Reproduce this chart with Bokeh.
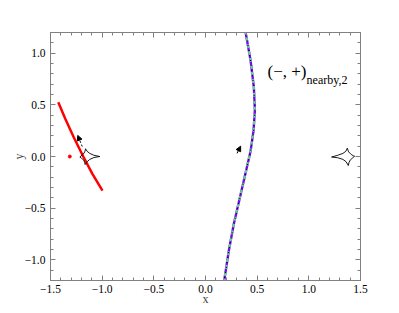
import math
from bokeh.plotting import figure
from bokeh.models import (Range1d, LinearAxis, SingleIntervalTicker, Label, Arrow,
                          NormalHead, CustomJSTickFormatter)
from bokeh.embed import file_html
from bokeh.resources import INLINE

# ---- data ----
red_x = [-1.425, -1.355, -1.274, -1.183, -1.096, -0.997]
red_y = [0.524, 0.36, 0.184, 0.0, -0.165, -0.33]
red_dot_x = [-1.313]
red_dot_y = [0.0]

curve_x = [0.385, 0.436, 0.468, 0.478, 0.465, 0.436, 0.371, 0.274, 0.226, 0.178]
curve_y = [1.22, 0.93, 0.67, 0.45, 0.25, 0.05, -0.233, -0.653, -0.91, -1.22]

caus1_x = [-1.023, -1.08, -1.12, -1.145, -1.161, -1.168, -1.185, -1.205, -1.216,
           -1.2, -1.18, -1.17, -1.165, -1.145, -1.12, -1.08, -1.023]
caus1_y = [0.0, 0.012, 0.03, 0.05, 0.075, 0.045, 0.02, 0.005, -0.005,
           -0.015, -0.035, -0.055, -0.078, -0.05, -0.028, -0.01, 0.0]

caus2_x = [1.22, 1.28, 1.33, 1.358, 1.372, 1.385, 1.41, 1.43, 1.443,
           1.425, 1.4, 1.388, 1.382, 1.36, 1.33, 1.28, 1.22]
caus2_y = [-0.005, 0.012, 0.03, 0.05, 0.08, 0.045, 0.02, 0.007, 0.003,
           -0.012, -0.035, -0.06, -0.087, -0.05, -0.028, -0.012, -0.005]

arrow1 = [(-1.193, 0.097), (-1.236, 0.204)]
arrow2 = [(0.305, 0.03), (0.34, 0.1)]

FONT = "Liberation Serif"
FRAME = "#808080"

p = figure(width=399, height=313, output_backend="svg", toolbar_location=None,
           x_range=Range1d(-1.5, 1.5), y_range=Range1d(-1.2, 1.2),
           min_border_left=50, min_border_right=39, min_border_top=32,
           min_border_bottom=33)
p.xgrid.visible = False
p.ygrid.visible = False
p.outline_line_color = FRAME
p.background_fill_color = "white"
p.border_fill_color = "white"

fmt = CustomJSTickFormatter(code="return tick.toFixed(1).replace('-', '\\u2212');")
blank = CustomJSTickFormatter(code="return '';")

def style(ax, labels=True):
    ax.ticker = SingleIntervalTicker(interval=0.5, num_minor_ticks=5)
    ax.axis_line_color = FRAME
    ax.major_tick_line_color = FRAME
    ax.minor_tick_line_color = FRAME
    ax.major_tick_in = 5
    ax.major_tick_out = 0
    ax.minor_tick_in = 3
    ax.minor_tick_out = 0
    ax.major_label_text_font = FONT
    ax.major_label_text_font_size = "11.5px"
    ax.major_label_text_color = "black"
    ax.major_label_standoff = 4
    ax.formatter = fmt if labels else blank
    ax.axis_label_text_font = FONT
    ax.axis_label_text_font_size = "12px"
    ax.axis_label_text_font_style = "normal"
    ax.axis_label_standoff = -4

style(p.xaxis[0])
style(p.yaxis[0])
p.xaxis.axis_label = "x"
p.yaxis.axis_label = "y"
p.yaxis.major_label_standoff = 5

top = LinearAxis()
style(top, labels=False)
p.add_layout(top, "above")
right = LinearAxis()
style(right, labels=False)
p.add_layout(right, "right")

# curves
p.line(red_x, red_y, line_color="red", line_width=2.5)
p.scatter(red_dot_x, red_dot_y, size=3, color="red")

p.line(curve_x, curve_y, line_color="#8000ff", line_width=2.4)
p.line(curve_x, curve_y, line_color="#66cc99", line_width=2.2, line_dash="4 3")
p.line(curve_x, curve_y, line_color="black", line_width=1.2, line_dash="1 4")

p.line(caus1_x, caus1_y, line_color="black", line_width=0.9)
p.line(caus2_x, caus2_y, line_color="black", line_width=0.9)

for (a, b), dash in ((arrow1, "2 2"), (arrow2, "solid")):
    p.add_layout(Arrow(x_start=a[0], y_start=a[1], x_end=b[0], y_end=b[1],
                       line_color="black", line_width=1, line_dash=dash,
                       end=NormalHead(size=5, fill_color="black", line_color="black")))

p.add_layout(Label(x=0.6, y=0.825, text="(−, +)", text_font=FONT,
                   text_font_size="17px", text_baseline="middle", text_color="black"))
p.add_layout(Label(x=0.978, y=0.745, text="nearby,2", text_font=FONT,
                   text_font_size="12px", text_baseline="middle", text_color="black"))

open("out.html", "w").write(file_html(p, INLINE))
